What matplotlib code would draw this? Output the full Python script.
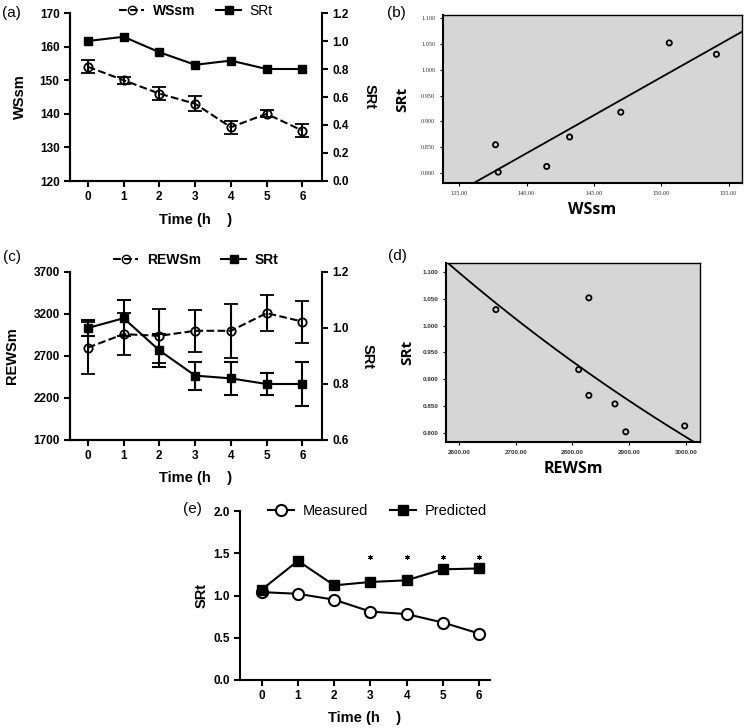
import matplotlib.pyplot as plt
from matplotlib.lines import Line2D
import numpy as np

plt.rcParams['font.family'] = 'Liberation Sans'

hours = [0, 1, 2, 3, 4, 5, 6]

# (a) WSsm and SRt over time
wssm = [154, 150, 146, 143, 136, 140, 135]
wssm_err = [2.0, 1.0, 2.0, 2.2, 2.0, 1.0, 2.0]
srt_a = [1.00, 1.03, 0.92, 0.83, 0.86, 0.80, 0.80]

# (b) SRt vs WSsm scatter
wssm_b = [137.7, 137.9, 141.5, 143.2, 147.0, 150.6, 154.1]
srt_b = [0.855, 0.802, 0.813, 0.870, 0.918, 1.052, 1.030]

# (c) REWSm and SRt over time
rewsm = [2800, 2960, 2940, 3000, 3000, 3210, 3110]
rewsm_err = [310, 250, 320, 250, 320, 215, 250]
srt_c = [1.00, 1.035, 0.92, 0.83, 0.82, 0.80, 0.80]
srt_c_err = [0.03, 0.065, 0.06, 0.05, 0.06, 0.04, 0.08]

# (d) SRt vs REWSm scatter
rewsm_d = [2665, 2829, 2811, 2829, 2875, 2894, 2998]
srt_d = [1.030, 1.052, 0.918, 0.870, 0.854, 0.802, 0.813]

# (e) measured vs predicted SRt
measured = [1.04, 1.02, 0.95, 0.81, 0.78, 0.68, 0.55]
predicted = [1.07, 1.41, 1.12, 1.16, 1.18, 1.31, 1.32]
sig_hours = [3, 4, 5, 6]
sig_level = 1.46

W, H = 748, 728
fig = plt.figure(figsize=(W / 100, H / 100), dpi=100)


def rect(left, top, right, bottom):
    return [left / W, 1 - bottom / H, (right - left) / W, (bottom - top) / H]


def style_time_axis(ax, lw=1.5):
    for s in ['left', 'bottom', 'right']:
        ax.spines[s].set_linewidth(lw)
    ax.spines['top'].set_visible(False)
    ax.tick_params(width=lw, length=4, labelsize=8.5)
    for t in ax.get_xticklabels() + ax.get_yticklabels():
        t.set_fontweight('bold')


def time_panel(box, left, left_err, right, right_err, left_lim, left_ticks,
               right_lim, right_ticks, names, lab_left, bold_legend, lab_pos, leg_y):
    ax = fig.add_axes(rect(*box))
    ax2 = ax.twinx()
    ax.errorbar(hours, left, yerr=left_err, fmt='o', ls='--', color='k', mfc='none',
                ms=6, mew=1.3, lw=1.5, capsize=5, elinewidth=1.5, capthick=1.5)
    ax2.errorbar(hours, right, yerr=right_err, fmt='s', ls='-', color='k',
                 ms=6, lw=1.5, capsize=5, elinewidth=1.5, capthick=1.5)
    ax.set_xlim(-0.5, 6.55)
    ax.set_xticks(hours)
    ax.set_ylim(*left_lim)
    ax.set_yticks(left_ticks)
    ax2.set_ylim(*right_lim)
    ax2.set_yticks(right_ticks)
    ax2.yaxis.set_major_formatter(plt.FormatStrFormatter('%.1f'))
    ax.spines['right'].set_visible(False)
    style_time_axis(ax)
    style_time_axis(ax2)
    ax.set_xlabel('Time (h    )', fontsize=10.5, fontweight='bold', va='center')
    ax.set_ylabel(lab_left, fontsize=10.5, fontweight='bold', va='center')
    ax2.set_ylabel('SRt', fontsize=10.5, fontweight='bold', rotation=270, va='center')
    ax.xaxis.set_label_coords(0.5, lab_pos[0])
    ax.yaxis.set_label_coords(lab_pos[1], 0.5)
    ax2.yaxis.set_label_coords(lab_pos[2], 0.5)
    handles = [Line2D([], [], color='k', ls='--', marker='o', mfc='none', ms=6, lw=1.5),
               Line2D([], [], color='k', ls='-', marker='s', ms=6, lw=1.5)]
    leg = ax2.legend(handles, names, loc='center', bbox_to_anchor=(0.5, leg_y), ncol=2,
                     frameon=False, fontsize=10, handlelength=1.8, columnspacing=1.5,
                     handletextpad=0.6)
    for t, b in zip(leg.get_texts(), bold_legend):
        t.set_fontweight('bold' if b else 'normal')
    return ax, ax2


# (a)
time_panel((70, 13, 322, 181), wssm, wssm_err, srt_a, None, (120, 170),
           range(120, 171, 10), (0, 1.2), np.arange(0, 1.21, 0.2),
           ['WSsm', 'SRt'], 'WSsm', [True, False], (-0.232, -0.2, 1.19), 1.01)

# (c)
time_panel((70, 272, 322, 440), rewsm, rewsm_err, srt_c, srt_c_err, (1700, 3700),
           range(1700, 3701, 500), (0.6, 1.2), np.arange(0.6, 1.21, 0.2),
           ['REWSm', 'SRt'], 'REWSm', [True, True], (-0.226, -0.23, 1.18), 1.07)


def scatter_panel(box, x, y, xlim, xticks, ylim, yticks, xlabel, fit, tickfont, tickweight):
    ax = fig.add_axes(rect(*box))
    ax.set_facecolor('#d6d6d6')
    ax.scatter(x, y, s=14, facecolor='none', edgecolor='k', linewidths=1.3, zorder=3)
    xs = np.linspace(xlim[0], xlim[1], 200)
    if fit == 'linear':
        k, b = np.polyfit(x, y, 1)
        ys = k * xs + b
    else:
        k, b = np.polyfit(x, np.log(y), 1)
        ys = np.exp(k * xs + b)
    ax.plot(xs, ys, color='k', lw=1.3)
    ax.set_xlim(*xlim)
    ax.set_ylim(*ylim)
    ax.set_xticks(xticks)
    ax.set_yticks(yticks)
    ax.set_xticklabels(['%.2f' % v for v in xticks], family=tickfont, fontweight=tickweight)
    ax.set_yticklabels(['%.3f' % v for v in yticks], family=tickfont, fontweight=tickweight)
    ax.tick_params(labelsize=4.5, length=2, width=0.8, labelcolor='#333333')
    for s in ax.spines.values():
        s.set_linewidth(1.0)
    ax.spines['left'].set_linewidth(1.5)
    ax.spines['bottom'].set_linewidth(1.5)
    ax.set_ylabel('SRt', fontsize=11, fontweight='bold', family='Open Sans', va='center')
    ax.set_xlabel(xlabel, fontsize=11.5, fontweight='bold', family='Open Sans', va='center')
    return ax


# (b)
axb = scatter_panel((443, 15, 742, 183), wssm_b, srt_b, (133.8, 156.0),
                    [135, 140, 145, 150, 155], (0.781, 1.106),
                    [0.80, 0.85, 0.90, 0.95, 1.00, 1.05, 1.10], 'WSsm', 'linear',
                    'Liberation Serif', 'normal')
axb.yaxis.set_label_coords(-0.137, 0.5)
axb.xaxis.set_label_coords(0.5, -0.16)

# (d)
axd = scatter_panel((446, 263, 700, 442), rewsm_d, srt_d, (2577, 3025),
                    [2600, 2700, 2800, 2900, 3000], (0.783, 1.117),
                    [0.80, 0.85, 0.90, 0.95, 1.00, 1.05, 1.10], 'REWSm', 'exp',
                    'Liberation Sans', 'bold')
axd.yaxis.set_label_coords(-0.154, 0.5)
axd.xaxis.set_label_coords(0.5, -0.15)

# (e)
axe = fig.add_axes(rect(240, 511, 490, 680))
axe.plot(hours, measured, 'o-', color='k', mfc='white', ms=8, mew=1.5, lw=1.5, zorder=3)
axe.plot(hours, predicted, 's-', color='k', ms=7.5, lw=1.5, zorder=4)
axe.scatter(sig_hours, [sig_level] * len(sig_hours), marker=(6, 2, 0), s=9,
            color='k', linewidths=0.7)
axe.set_xlim(-0.6, 6.3)
axe.set_xticks(hours)
axe.set_ylim(0, 2.0)
axe.set_yticks([0, 0.5, 1.0, 1.5, 2.0])
axe.yaxis.set_major_formatter(plt.FormatStrFormatter('%.1f'))
style_time_axis(axe)
axe.spines['right'].set_visible(False)
axe.set_xlabel('Time (h    )', fontsize=10.5, fontweight='bold', va='center')
axe.set_ylabel('SRt', fontsize=10.5, fontweight='bold', va='center')
axe.xaxis.set_label_coords(0.5, -0.225)
axe.yaxis.set_label_coords(-0.152, 0.5)
handles = [Line2D([], [], color='k', marker='o', mfc='white', ms=8, mew=1.5, lw=1.5),
           Line2D([], [], color='k', marker='s', ms=7.5, lw=1.5)]
axe.legend(handles, ['Measured', 'Predicted'], loc='center', bbox_to_anchor=(0.55, 1.0),
           ncol=2, frameon=False, fontsize=10.5, handlelength=1.8, columnspacing=1.5,
           handletextpad=0.6)

# panel letters
for lab, x, y in [('(a)', 2, 13), ('(b)', 387, 13), ('(c)', 3, 257),
                  ('(d)', 388, 256), ('(e)', 183, 509)]:
    fig.text(x / W, 1 - y / H, lab, fontsize=11, va='center', ha='left')

fig.savefig('out.png', dpi=100)
